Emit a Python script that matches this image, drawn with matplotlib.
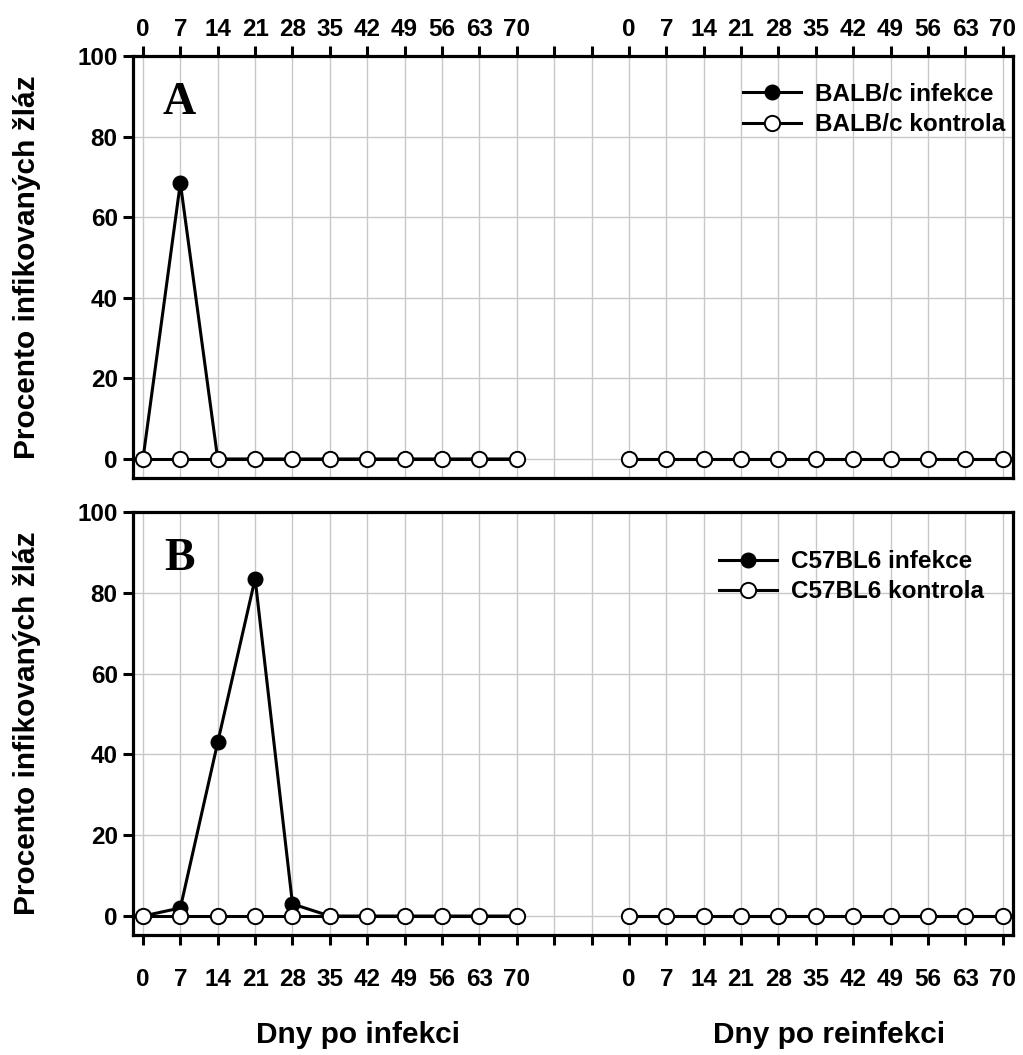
import matplotlib
matplotlib.use("Agg")
import matplotlib.pyplot as plt
import numpy as np

days = [0, 7, 14, 21, 28, 35, 42, 49, 56, 63, 70]
tick_labels = [str(d) for d in days] + ["", ""] + [str(d) for d in days]

balb_inf_first = [0, 68.5, 0, 0, 0, 0, 0, 0, 0, 0, 0]
balb_inf_re = [0, 0, 0, 0, 0, 0, 0, 0, 0, 0, 0]
balb_ctrl_first = [0, 0, 0, 0, 0, 0, 0, 0, 0, 0, 0]
balb_ctrl_re = [0, 0, 0, 0, 0, 0, 0, 0, 0, 0, 0]

c57_inf_first = [0, 2, 43, 83.5, 3, 0, 0, 0, 0, 0, 0]
c57_inf_re = [0, 0, 0, 0, 0, 0, 0, 0, 0, 0, 0]
c57_ctrl_first = [0, 0, 0, 0, 0, 0, 0, 0, 0, 0, 0]
c57_ctrl_re = [0, 0, 0, 0, 0, 0, 0, 0, 0, 0, 0]

plt.rcParams['font.family'] = ['Liberation Sans', 'DejaVu Sans']
plt.rcParams['font.weight'] = 'bold'

fig = plt.figure(figsize=(10.23, 10.55), dpi=100)
ax1 = fig.add_axes([0.130, 0.547, 0.860, 0.400])
ax2 = fig.add_axes([0.130, 0.1137, 0.860, 0.401])

pos_first = np.arange(11)
pos_re = np.arange(13, 24)
all_pos = np.arange(24)

def panel(ax, inf_f, inf_r, ctl_f, ctl_r, names, letter, top, legxy):
    for p, v in ((pos_first, inf_f), (pos_re, inf_r)):
        ax.plot(p, v, color='black', lw=2.2, marker='o', ms=10.5,
                mfc='black', mec='black', zorder=3,
                label=names[0] if p is pos_first else None)
    for p, v in ((pos_first, ctl_f), (pos_re, ctl_r)):
        ax.plot(p, v, color='black', lw=2.2, marker='o', ms=11,
                mfc='white', mec='black', mew=1.4, zorder=4,
                label=names[1] if p is pos_first else None)
    ax.set_xlim(-0.267, 23.27)
    ax.set_ylim(-4.7, 100)
    ax.set_yticks([0, 20, 40, 60, 80, 100])
    ax.set_xticks(all_pos)
    ax.set_xticklabels(tick_labels)
    ax.grid(True, color='#c8c8c8', lw=1.0, zorder=0)
    ax.set_axisbelow(True)
    for s in ax.spines.values():
        s.set_linewidth(2.3)
    ax.tick_params(axis='both', width=2.2, length=7, labelsize=17.5, direction='out')
    if top:
        ax.tick_params(axis='x', top=True, bottom=False, labeltop=True,
                       labelbottom=False, pad=3.5)
    else:
        ax.tick_params(axis='x', top=False, bottom=True, labeltop=False,
                       labelbottom=True, pad=17)
    ax.tick_params(axis='y', pad=4)
    for lab in ax.get_xticklabels() + ax.get_yticklabels():
        lab.set_fontweight('bold')
    ax.set_ylabel('Procento infikovaných žláz', fontsize=21.5, fontweight='bold')
    ax.yaxis.set_label_coords(-0.104, 0.5)
    ax.text(0.053, 0.889, letter, transform=ax.transAxes, fontsize=33,
            fontweight='bold', family='Liberation Serif', ha='center', va='center')
    leg = ax.legend(loc='upper right', frameon=False, fontsize=17.5,
                    handlelength=2.4, handletextpad=0.55, labelspacing=0.3,
                    borderaxespad=0.0, bbox_to_anchor=legxy)
    for t in leg.get_texts():
        t.set_fontweight('bold')

panel(ax1, balb_inf_first, balb_inf_re, balb_ctrl_first, balb_ctrl_re,
      ['BALB/c infekce', 'BALB/c kontrola'], 'A', True, (1.002, 0.959))
panel(ax2, c57_inf_first, c57_inf_re, c57_ctrl_first, c57_ctrl_re,
      ['C57BL6 infekce', 'C57BL6 kontrola'], 'B', False, (0.978, 0.933))

fig.text(358/1023, 1 - 1035/1055, 'Dny po infekci', ha='center', va='center',
         fontsize=21.5, fontweight='bold')
fig.text(829/1023, 1 - 1035/1055, 'Dny po reinfekci', ha='center', va='center',
         fontsize=21.5, fontweight='bold')

fig.savefig('out.png', dpi=100)
